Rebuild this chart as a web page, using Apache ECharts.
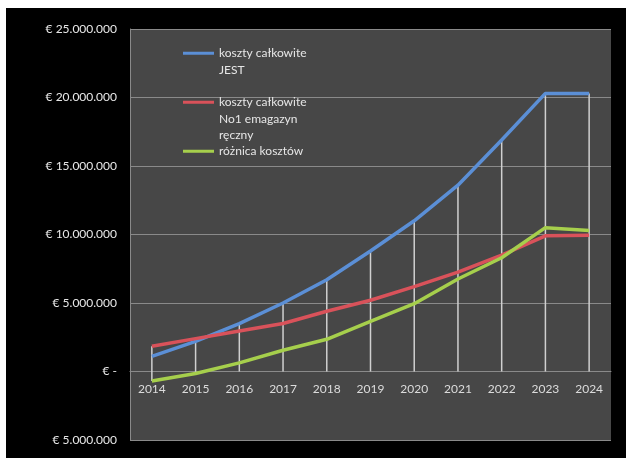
<!DOCTYPE html>
<html><head><meta charset="utf-8">
<script src="https://cdn.jsdelivr.net/npm/echarts@6/dist/echarts.min.js"></script>
<style>
html,body{margin:0;padding:0;background:#fff;width:626px;height:458px;overflow:hidden}
#chart{position:absolute;left:6px;top:8px;width:620px;height:450px;background:#000}
</style>
</head><body><div id="chart"></div>
<script>
const years = ['2014','2015','2016','2017','2018','2019','2020','2021','2022','2023','2024'];
const seriesNames = ['koszty całkowite\nJEST', 'koszty całkowite\nNo1 emagazyn\nręczny', 'różnica kosztów'];
const kosztyJEST = [1100000, 2200000, 3500000, 5000000, 6700000, 8800000, 11000000, 13600000, 16900000, 20300000, 20300000];
const kosztyReczny = [1850000, 2400000, 2950000, 3500000, 4400000, 5200000, 6200000, 7250000, 8500000, 9900000, 9950000];
const roznica = [-700000, -150000, 630000, 1550000, 2350000, 3650000, 4950000, 6750000, 8300000, 10500000, 10300000];
const yTickValues = [-5000000, 0, 5000000, 10000000, 15000000, 20000000, 25000000];
const yTickLabels = ['€ 5.000.000', '€ -', '€ 5.000.000', '€ 10.000.000', '€ 15.000.000', '€ 20.000.000', '€ 25.000.000'];

const dropData = years.map((y, i) => {
  const vals = [kosztyJEST[i], kosztyReczny[i], roznica[i]];
  return [i, Math.max(0, ...vals), Math.min(0, ...vals)];
});

const FONT = 'Lato';
const CH = 450, GT = 21, GB = 18;
const yMin = -5000000, yMax = 25000000;
const zeroOffset = (CH - GT - GB) * (0 - yMin) / (yMax - yMin);
const legendIcon = 'path://M0,0L31,0L31,3L0,3Z M0,36L31,36L31,36Z';

const chart = echarts.init(document.getElementById('chart'));
chart.setOption({
  backgroundColor: '#000',
  animation: false,
  grid: { left: 124, right: 15, top: GT, bottom: GB, show: true, backgroundColor: '#474747', borderWidth: 0 },
  legend: {
    orient: 'vertical', left: 177, top: 37, padding: 0, itemGap: -0.5,
    itemWidth: 31, itemHeight: 36, icon: legendIcon, selectedMode: false,
    itemStyle: { borderWidth: 0 },
    textStyle: { color: '#e6e6e6', fontFamily: FONT, fontSize: 12, lineHeight: 16.5 },
    formatter: name => name + '\n '.repeat(3 - name.split('\n').length),
    data: seriesNames
  },
  xAxis: {
    type: 'category', data: years, boundaryGap: true, offset: -zeroOffset,
    axisLine: { onZero: false, lineStyle: { color: '#8a8a8a', width: 1 } },
    axisTick: { show: false },
    axisLabel: { color: '#dcdcdc', fontFamily: FONT, fontSize: 12, margin: 12 },
    splitLine: { show: false }
  },
  yAxis: {
    type: 'value', min: yMin, max: yMax, interval: 5000000,
    axisLine: { show: true, lineStyle: { color: '#8a8a8a', width: 1 } },
    axisTick: { show: false },
    axisLabel: {
      color: '#e8e8e8', fontFamily: FONT, fontSize: 12, margin: 13,
      formatter: v => { const k = yTickValues.indexOf(v); return k >= 0 ? yTickLabels[k] : ''; }
    },
    splitLine: { show: true, lineStyle: { color: '#8a8a8a', width: 1 } }
  },
  series: [
    {
      type: 'custom', name: 'drop', z: 1, silent: true,
      renderItem: (params, api) => {
        const i = api.value(0);
        const a = api.coord([i, api.value(1)]);
        const b = api.coord([i, api.value(2)]);
        return { type: 'line', shape: { x1: a[0], y1: a[1], x2: b[0], y2: b[1] }, style: { stroke: '#d0d0d0', lineWidth: 1.5 } };
      },
      data: dropData
    },
    { type: 'line', name: seriesNames[0], data: kosztyJEST, showSymbol: false, symbol: 'none', z: 3,
      lineStyle: { color: '#5b8fd6', width: 3.5 }, itemStyle: { color: '#5b8fd6' } },
    { type: 'line', name: seriesNames[1], data: kosztyReczny, showSymbol: false, symbol: 'none', z: 3,
      lineStyle: { color: '#d9525a', width: 3.5 }, itemStyle: { color: '#d9525a' } },
    { type: 'line', name: seriesNames[2], data: roznica, showSymbol: false, symbol: 'none', z: 3,
      lineStyle: { color: '#a6cf4c', width: 3.5 }, itemStyle: { color: '#a6cf4c' } }
  ]
});
</script>
</body></html>
